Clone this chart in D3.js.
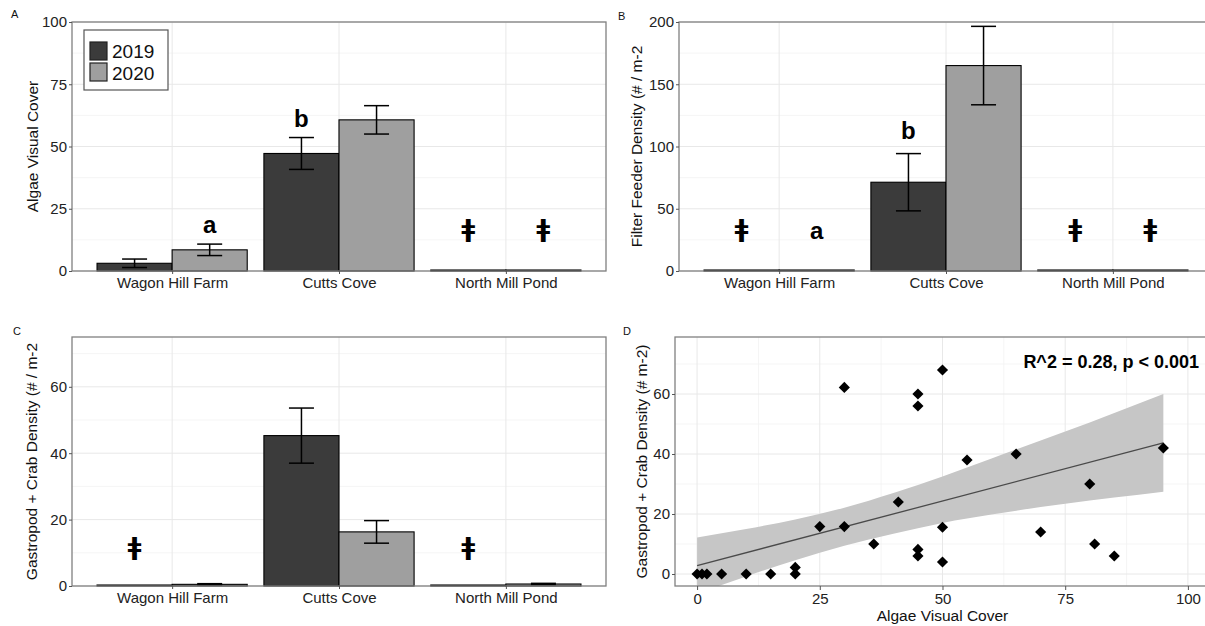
<!DOCTYPE html>
<html>
<head>
<meta charset="utf-8">
<script src="https://cdn.jsdelivr.net/npm/d3@7"></script>
<style>
body{margin:0;background:#fff}
text{font-family:"Liberation Sans",Arial,sans-serif}
</style>
</head>
<body>
<svg id="fig" width="1205" height="626"></svg>
<script>
// ---- data ----
const sites = ['Wagon Hill Farm','Cutts Cove','North Mill Pond']
const years = ['2019','2020']

// panel A
const algae2019 = [3.1, 47.2, 0]
const algae2020 = [8.5, 60.7, 0]
const algaeErr2019 = [1.7, 6.4, null]
const algaeErr2020 = [2.3, 5.7, null]
const algaeTicks = [0,25,50,75,100]
const algaeLabels = [
	{site:'Wagon Hill Farm',year:'2020',text:'a',y:18.8},
	{site:'Cutts Cove',year:'2019',text:'b',y:61.4},
	{site:'North Mill Pond',year:'2019',text:'ǂ',y:16.7},
	{site:'North Mill Pond',year:'2020',text:'ǂ',y:16.7}
]

// panel B
const filter2019 = [0, 71.3, 0]
const filter2020 = [0.8, 165, 0]
const filterErr2019 = [null, 23, null]
const filterErr2020 = [null, 31.5, null]
const filterTicks = [0,50,100,150,200]
const filterLabels = [
	{site:'Wagon Hill Farm',year:'2019',text:'ǂ',y:33.4},
	{site:'Wagon Hill Farm',year:'2020',text:'a',y:32.8},
	{site:'Cutts Cove',year:'2019',text:'b',y:113},
	{site:'North Mill Pond',year:'2019',text:'ǂ',y:33.4},
	{site:'North Mill Pond',year:'2020',text:'ǂ',y:33.4}
]

// panel C
const grazer2019 = [0, 45.3, 0]
const grazer2020 = [0.5, 16.3, 0.6]
const grazerErr2019 = [null, 8.3, null]
const grazerErr2020 = [0.2, 3.4, 0.2]
const grazerTicks = [0,20,40,60]
const grazerLabels = [
	{site:'Wagon Hill Farm',year:'2019',text:'ǂ',y:11.7},
	{site:'North Mill Pond',year:'2019',text:'ǂ',y:11.7}
]

// panel D
const coverX = [0,1,2,5,10,15,20,20,25,30,30,36,41,45,45,45,45,50,50,50,55,65,70,80,81,85,95]
const densityY = [0,0,0,0,0,0,0,2.2,15.8,62.2,15.8,10,24,60,56,8.2,6,68,15.6,4,38,40,14,30,10,6,42]
const fitX = [0,95]
const fitY = [2.8,43.7]
const bandX = [0,10,20,30,40,50,60,70,80,90,95]
const bandLow = [-6.6,-0.8,4.6,9.4,13.4,17.0,19.8,22.3,24.5,26.4,27.4]
const bandHigh = [12.2,15.0,18.2,22.1,27.0,32.5,38.5,44.5,50.5,56.8,60.0]
const scatterXTicks = [0,25,50,75,100]
const scatterYTicks = [0,20,40,60]

const colours = {'2019':'#3b3b3b','2020':'#9f9f9f'}
const frameColour = '#808080'

let svg = d3.select('#fig')

function styleAxis(ax){
	ax.select('.domain').remove()
	ax.selectAll('.tick line').attr('stroke','#555')
	ax.selectAll('.tick text').attr('fill','#222').style('font-size','15px')
}

function yTitle(x,cy,txt){
	svg.append('text')
		.attr('transform','translate('+x+','+cy+') rotate(-90)')
		.attr('text-anchor','middle')
		.style('font-size','15.5px')
		.attr('fill','#111')
		.text(txt)
}

function panelLetter(x,y,txt){
	svg.append('text').attr('x',x).attr('y',y).style('font-size','11px').attr('fill','#111').text(txt)
}

function barPanel(opt){
	let x = d3.scalePoint().domain(sites).range([opt.left,opt.right]).padding(0.6)
	let step = x.step()
	let xYear = d3.scaleBand().domain(years).range([-0.45*step,0.45*step])
	let y = d3.scaleLinear().domain([0,opt.max]).range([opt.bottom,opt.top])

	let g = svg.append('g')

	// minor + major grid
	let minor = opt.ticks.slice(0,-1).map(function(t,i){return (t+opt.ticks[i+1])/2})
	minor.push(opt.ticks[opt.ticks.length-1]+(opt.ticks[1]-opt.ticks[0])/2)
	g.selectAll('.minor').data(minor.filter(function(v){return v<opt.max})).enter().append('line')
		.attr('x1',opt.left).attr('x2',opt.right)
		.attr('y1',function(d){return y(d)}).attr('y2',function(d){return y(d)})
		.attr('stroke','#f2f2f2').attr('stroke-width',0.8)
	g.selectAll('.major').data(opt.ticks).enter().append('line')
		.attr('x1',opt.left).attr('x2',opt.right)
		.attr('y1',function(d){return y(d)}).attr('y2',function(d){return y(d)})
		.attr('stroke','#e8e8e8').attr('stroke-width',1)
	g.selectAll('.vgrid').data(sites).enter().append('line')
		.attr('x1',function(d){return x(d)}).attr('x2',function(d){return x(d)})
		.attr('y1',opt.top).attr('y2',opt.bottom)
		.attr('stroke','#e8e8e8').attr('stroke-width',1)

	let rows = []
	sites.forEach(function(s,i){
		rows.push({site:s,year:'2019',v:opt.v2019[i],e:opt.e2019[i]})
		rows.push({site:s,year:'2020',v:opt.v2020[i],e:opt.e2020[i]})
	})

	g.selectAll('.bar').data(rows).enter().append('rect')
		.attr('x',function(d){return x(d.site)+xYear(d.year)})
		.attr('width',xYear.bandwidth())
		.attr('y',function(d){return Math.min(y(d.v),y(0)-1)})
		.attr('height',function(d){return Math.max(1,y(0)-y(d.v))})
		.attr('fill',function(d){return colours[d.year]})
		.attr('stroke','#000').attr('stroke-width',1.1)

	let errs = rows.filter(function(d){return d.e!=null})
	let cx = function(d){return x(d.site)+xYear(d.year)+xYear.bandwidth()/2}
	g.selectAll('.ev').data(errs).enter().append('line')
		.attr('x1',cx).attr('x2',cx)
		.attr('y1',function(d){return y(d.v-d.e)}).attr('y2',function(d){return y(d.v+d.e)})
		.attr('stroke','#000').attr('stroke-width',1.5)
	;[1,-1].forEach(function(sgn,k){
		g.selectAll('.cap'+k).data(errs).enter().append('line')
			.attr('class','cap'+k)
			.attr('x1',function(d){return cx(d)-12.5}).attr('x2',function(d){return cx(d)+12.5})
			.attr('y1',function(d){return y(d.v+sgn*d.e)})
			.attr('y2',function(d){return y(d.v+sgn*d.e)})
			.attr('stroke','#000').attr('stroke-width',1.5)
	})

	g.selectAll('.lab').data(opt.labels).enter().append('text')
		.attr('x',function(d){return x(d.site)+xYear(d.year)+xYear.bandwidth()/2})
		.attr('y',function(d){return y(d.y)})
		.attr('dy',function(d){return d.text=='ǂ'?'0.3em':'0.35em'})
		.attr('text-anchor','middle')
		.style('font-family',function(d){return d.text=='ǂ'?'"DejaVu Sans",sans-serif':null})
		.style('font-size',function(d){return d.text=='ǂ'?'25px':'24px'})
		.style('font-weight','bold')
		.attr('fill','#000')
		.text(function(d){return d.text})

	g.append('rect').attr('x',opt.left).attr('y',opt.top)
		.attr('width',opt.right-opt.left).attr('height',opt.bottom-opt.top)
		.attr('fill','none').attr('stroke',frameColour).attr('stroke-width',1.3)

	let ay = g.append('g').attr('transform','translate('+opt.left+',0)')
		.call(d3.axisLeft(y).tickValues(opt.ticks).tickSize(3).tickPadding(2))
	styleAxis(ay)
	let ax = g.append('g').attr('transform','translate(0,'+opt.bottom+')')
		.call(d3.axisBottom(x).tickSize(3).tickPadding(3))
	styleAxis(ax)

	yTitle(opt.titleX,(opt.top+opt.bottom)/2,opt.title)
	panelLetter(opt.letterX,opt.letterY,opt.letter)
	return {x:x,y:y,g:g}
}

let panelA = barPanel({left:72,right:606,top:22,bottom:271,max:100,ticks:algaeTicks,
	v2019:algae2019,v2020:algae2020,e2019:algaeErr2019,e2020:algaeErr2020,labels:algaeLabels,
	title:'Algae Visual Cover',titleX:38,letter:'A',letterX:11,letterY:18})

barPanel({left:679,right:1213,top:22,bottom:271,max:200,ticks:filterTicks,
	v2019:filter2019,v2020:filter2020,e2019:filterErr2019,e2020:filterErr2020,labels:filterLabels,
	title:'Filter Feeder Density (# / m-2',titleX:642,letter:'B',letterX:618,letterY:20})

barPanel({left:72,right:606,top:337,bottom:586,max:75,ticks:grazerTicks,
	v2019:grazer2019,v2020:grazer2020,e2019:grazerErr2019,e2020:grazerErr2020,labels:grazerLabels,
	title:'Gastropod + Crab Density (# / m-2',titleX:37,letter:'C',letterX:13,letterY:335})

// legend in panel A
let leg = panelA.g.append('g')
leg.append('rect').attr('x',84).attr('y',30).attr('width',84).attr('height',60)
	.attr('fill','#fff').attr('stroke','#555').attr('stroke-width',1.2)
years.forEach(function(yr,i){
	leg.append('rect').attr('x',90).attr('y',42+i*21).attr('width',17).attr('height',18)
		.attr('fill',colours[yr]).attr('stroke','#222').attr('stroke-width',1.2)
	leg.append('text').attr('x',112).attr('y',58+i*22).style('font-size','19px').attr('fill','#111').text(yr)
})

// ---- panel D scatter ----
function scatterPanel(){
	let left=675,right=1209,top=337,bottom=586
	let x = d3.scaleLinear().domain([-4.5,104.3]).range([left,right])
	let y = d3.scaleLinear().domain([-4,79]).range([bottom,top])
	let g = svg.append('g')

	svg.append('clipPath').attr('id','dclip').append('rect')
		.attr('x',left).attr('y',top).attr('width',right-left).attr('height',bottom-top)

	let xMinor = [12.5,37.5,62.5,87.5]
	let yMinor = [10,30,50,70]
	g.selectAll('.xm').data(xMinor).enter().append('line')
		.attr('x1',function(d){return x(d)}).attr('x2',function(d){return x(d)})
		.attr('y1',top).attr('y2',bottom).attr('stroke','#f2f2f2').attr('stroke-width',0.8)
	g.selectAll('.ym').data(yMinor).enter().append('line')
		.attr('x1',left).attr('x2',right)
		.attr('y1',function(d){return y(d)}).attr('y2',function(d){return y(d)})
		.attr('stroke','#f2f2f2').attr('stroke-width',0.8)
	g.selectAll('.xg').data(scatterXTicks).enter().append('line')
		.attr('x1',function(d){return x(d)}).attr('x2',function(d){return x(d)})
		.attr('y1',top).attr('y2',bottom).attr('stroke','#e8e8e8')
	g.selectAll('.yg').data(scatterYTicks).enter().append('line')
		.attr('x1',left).attr('x2',right)
		.attr('y1',function(d){return y(d)}).attr('y2',function(d){return y(d)})
		.attr('stroke','#e8e8e8')

	let band = bandX.map(function(v,i){return {x:v,lo:bandLow[i],hi:bandHigh[i]}})
	let area = d3.area().curve(d3.curveMonotoneX)
		.x(function(d){return x(d.x)}).y0(function(d){return y(d.lo)}).y1(function(d){return y(d.hi)})
	g.append('path').datum(band).attr('d',area).attr('fill','#c6c6c6').attr('clip-path','url(#dclip)')

	let fit = fitX.map(function(v,i){return [x(v),y(fitY[i])]})
	g.append('path').attr('d',d3.line()(fit)).attr('fill','none').attr('stroke','#4a4a4a').attr('stroke-width',1.3)

	let sym = d3.symbol().type(d3.symbolSquare).size(62)
	g.selectAll('.pt').data(coverX).enter().append('path')
		.attr('d',sym)
		.attr('transform',function(d,i){return 'translate('+x(d)+','+y(densityY[i])+') rotate(45)'})
		.attr('fill','#000')

	g.append('text').attr('x',1199).attr('y',368).attr('text-anchor','end')
		.style('font-size','18px').style('font-weight','bold').attr('fill','#000')
		.text('R^2 = 0.28, p < 0.001')

	g.append('rect').attr('x',left).attr('y',top).attr('width',right-left).attr('height',bottom-top)
		.attr('fill','none').attr('stroke',frameColour).attr('stroke-width',1.3)

	let ay = g.append('g').attr('transform','translate('+left+',0)')
		.call(d3.axisLeft(y).tickValues(scatterYTicks).tickSize(3).tickPadding(2))
	styleAxis(ay)
	let ax = g.append('g').attr('transform','translate(0,'+bottom+')')
		.call(d3.axisBottom(x).tickValues(scatterXTicks).tickSize(4).tickPadding(3))
	styleAxis(ax)

	g.append('text').attr('x',x(50)).attr('y',621).attr('text-anchor','middle')
		.style('font-size','15.5px').attr('fill','#111').text('Algae Visual Cover')
	yTitle(647,(top+bottom)/2,'Gastropod + Crab Density (# m-2)')
	panelLetter(623,335,'D')
}
scatterPanel()
</script>
</body>
</html>
